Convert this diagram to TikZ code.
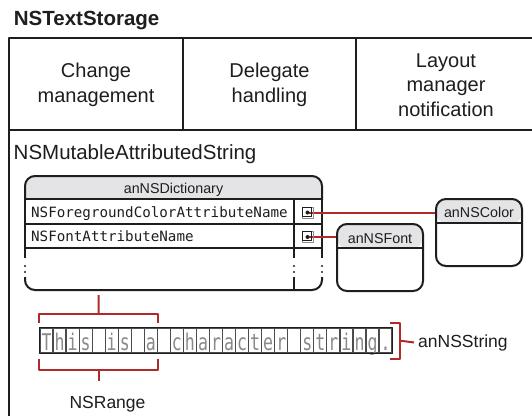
\documentclass[tikz,border=0pt]{standalone}
\usepackage{fontspec}
\setmainfont{Liberation Sans}
\newfontfamily\monofont{DejaVu Sans Mono}
\usetikzlibrary{calc}
\definecolor{hdr}{HTML}{E4E4E6}
\definecolor{rd}{HTML}{B02A2A}
\definecolor{ink}{HTML}{1E1E1E}
\definecolor{chr}{HTML}{8A8A8A}
\begin{document}
\begin{tikzpicture}[x=1pt,y=-1pt,line join=round,
  frame/.style={line width=2.1pt,draw=ink},
  dict/.style={line width=2pt,draw=ink},
  redline/.style={line width=2pt,draw=rd},
  objbox/.style={draw=ink,line width=2pt,rounded corners=10pt,minimum width=86pt,minimum height=67pt,inner sep=0pt,
    path picture={\fill[hdr] (path picture bounding box.north west) rectangle ([yshift=-24pt]path picture bounding box.north east);}},
  objlbl/.style={inner sep=0pt,anchor=base,font=\fontsize{14.3}{16}\selectfont,text=ink},
  cell/.style={draw=black!70,line width=1.2pt,minimum width=13.04pt,minimum height=24.4pt,inner sep=0pt,
    text height=20pt,text depth=1.2pt,text=chr,font=\monofont\fontsize{23}{23}\selectfont},
  lbl/.style={inner sep=0pt,font=\fontsize{20}{25}\selectfont,align=center,text=ink},
  mono/.style={inner sep=0pt,anchor=base west,font=\monofont\fontsize{14.2}{16}\selectfont,text=ink},
  redlbl/.style={inner sep=0pt,font=\fontsize{17.5}{20}\selectfont,text=ink},
  dot/.style={fill=ink}]
\useasboundingbox (0,0) rectangle (532,415);
\fill[white] (0,0) rectangle (532,415);
% title
\node[inner sep=0pt,anchor=base west,font=\bfseries\fontsize{20.5}{22}\selectfont,text=ink] (title) at (13.7,25.7) {NSTextStorage};
% outer frame
\draw[frame] (9,416) -- (9,38) -- (533,38);
\draw[frame] (9,130) -- (533,130);
\draw[frame] (183,38) -- (183,130);
\draw[frame] (356,38) -- (356,130);
\node[lbl] (chg) at (96,85.3) {Change\\management};
\node[lbl] (dlg) at (269.5,85.3) {Delegate\\handling};
\node[lbl,font=\fontsize{20}{24.3}\selectfont] (lay) at (446,85.2) {Layout\\manager\\notification};
\node[inner sep=0pt,anchor=base west,font=\fontsize{20.5}{24}\selectfont,text=ink] (mas) at (13.5,159) {NSMutableAttributedString};
% dictionary
\begin{scope}
  \clip (15,170) rectangle (335,199);
  \draw[dict,fill=hdr,rounded corners=10pt] (25,176) rectangle (322,300);
\end{scope}
\begin{scope}
  \clip (15,277) rectangle (335,300);
  \draw[dict,rounded corners=10pt] (25,200) rectangle (322,290);
\end{scope}
\draw[dict] (25,199) -- (322,199);
\draw[dict] (25,224) -- (322,224);
\draw[dict] (25,248) -- (322,248);
\draw[dict] (25,199) -- (25,258);
\draw[dict] (294,199) -- (294,258);
\draw[dict] (322,199) -- (322,258);
\draw[dict] (294,277) -- (294,290);
\foreach \x in {25,294,322}{\fill[ink] (\x,266) circle (1.2); \fill[ink] (\x,272) circle (1.2);}
\coordinate (dictbot) at (98.7,290);
\node[objlbl] (dictlbl) at (173.5,193) {anNSDictionary};
\node[mono] (k1) at (31,217) {NSForegroundColorAttributeName};
\node[mono] (k2) at (31,241.5) {NSFontAttributeName};
% object boxes
\node[objbox] (colorbox) at (479,232.5) {};
\draw[dict] (436,223) -- (522,223);
\node[objlbl] (colorlbl) at (479,217) {anNSColor};
\node[objbox] (fontbox) at (380,257.5) {};
\draw[dict] (337,248) -- (423,248);
\node[objlbl] (fontlbl) at (380,243) {anNSFont};
% value references
\coordinate (d1) at (307.5,212.5);
\coordinate (d2) at (307.5,237);
\draw[redline] (d1) -- (d1 -| colorbox.west);
\draw[redline] (d2) -- (d2 -| fontbox.west);
\foreach \d in {d1,d2}{
  \draw[black!45,line width=0.8pt] ([shift={(-5.3,-5.3)}]\d) rectangle ([shift={(5.8,5.8)}]\d);
  \draw[ink,line width=1.1pt] ([shift={(-5.3,-5.3)}]\d) rectangle ([shift={(3.8,3.8)}]\d);
  \fill[ink] (\d) circle (2);
}
% character string
\foreach \c [count=\i] in {T,h,i,s,{},i,s,{},a,{},c,h,a,r,a,c,t,e,r,{},s,t,r,i,n,g,.}{
  \node[cell] (c\i) at ({40+13.04*(\i-0.5)},340.6) {\scalebox{0.72}[1]{\c}};
}
\draw[ink,line width=1.3pt] (c1.north west) rectangle (c27.south east);
% NSRange brackets
\draw[redline] ([yshift=5pt]c1.north west) -- ([yshift=13.5pt]c1.north west) -- ([yshift=13.5pt]c9.north east) -- ([yshift=5pt]c9.north east);
\draw[redline] ($([yshift=13.5pt]c1.north west)!0.5!([yshift=13.5pt]c9.north east)$) -- ([yshift=-5pt]dictbot);
\draw[redline] ([yshift=-5.6pt]c1.south west) -- ([yshift=-16.3pt]c1.south west) -- ([yshift=-16.3pt]c9.south east) -- ([yshift=-5.6pt]c9.south east);
\node[redlbl,anchor=base] (rangelbl) at (107.5,408) {NSRange};
\coordinate (bmid) at ($([yshift=-16.3pt]c1.south west)!0.5!([yshift=-16.3pt]c9.south east)$);
\draw[redline] (bmid) -- ([yshift=-11.7pt]bmid);
% anNSString bracket
\draw[redline] ([xshift=-3pt,yshift=4.5pt]c27.north east) -- ([xshift=7pt,yshift=4.5pt]c27.north east) -- ([xshift=7pt,yshift=-5.3pt]c27.south east) -- ([xshift=-3pt,yshift=-5.3pt]c27.south east);
\node[redlbl,anchor=base west] (strlbl) at (418,347) {anNSString};
\draw[redline] ([xshift=7pt]c27.east) -- (strlbl.west -| 414,0);
\end{tikzpicture}
\end{document}
